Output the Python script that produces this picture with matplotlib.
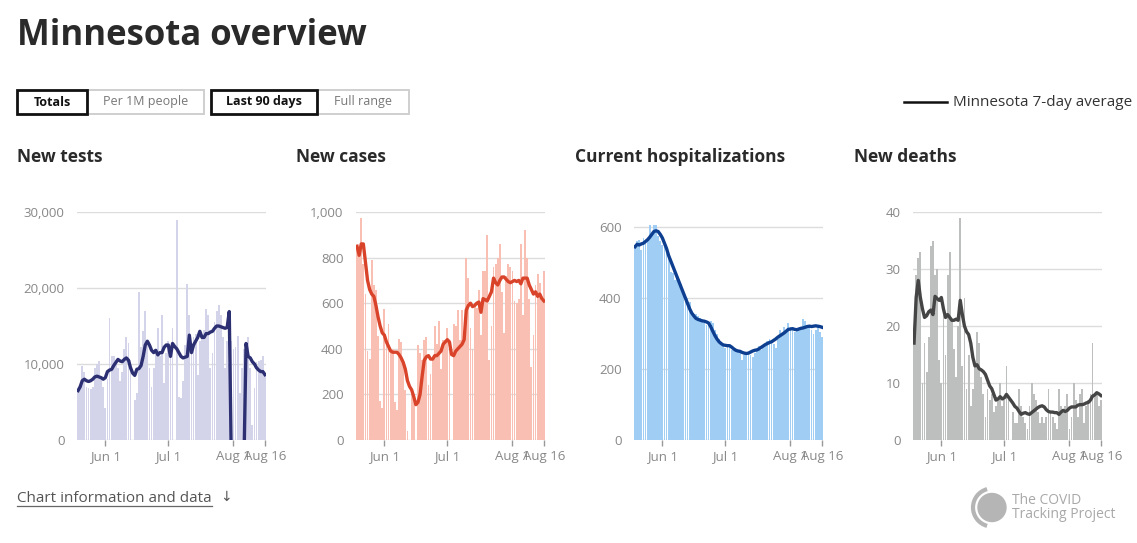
import pandas as pd
import matplotlib.pyplot as plt
from matplotlib.patches import Rectangle, Circle, Arc
from matplotlib.lines import Line2D
from matplotlib.ticker import FuncFormatter

plt.rcParams['font.family'] = ['Open Sans', 'DejaVu Sans']

# --- data (last 90 days, May 19 - Aug 16) ---
dates = pd.date_range('2020-05-19', '2020-08-16', freq='D')
tick_dates = pd.to_datetime(['2020-06-01', '2020-07-01', '2020-08-01', '2020-08-16'])
tick_labels = ['Jun 1', 'Jul 1', 'Aug 1', 'Aug 16']

tests = [6500, 7000, 9700, 8900, 7000, 6800, 6700, 7000, 9500, 10000,
         10400, 8000, 7000, 4200, 8000, 16000, 11000, 11000, 10500, 9500,
         7800, 9000, 12000, 13500, 12800, 10500, 0, 5200, 6200, 19500,
         12200, 14300, 17000, 12500, 9500, 7000, 9500, 11500, 14800, 11000,
         16500, 7500, 11500, 13000, 12500, 14700, 0, 29000, 5700, 5500,
         7700, 12500, 20500, 16500, 12000, 13500, 14000, 8500, 13000, 14000,
         14500, 17300, 16500, 9500, 11500, 15500, 17000, 17700, 16500, 13500,
         9500, 13000, 10000, 13000, 12000, 12200, 13700, 6200, 9500, 12000,
         11500, 13500, 9500, 2000, 6800, 10200, 10400, 10500, 11000, 8800]
# the average dips below zero for a week in early August (drawn off the bottom)
tests_avg = [6500, 7000, 7800, 8000, 7800, 7700, 7800, 8000, 8300, 8400,
             8300, 8200, 8000, 8200, 9000, 9200, 9300, 9800, 10200, 10600,
             10400, 10300, 10600, 10800, 10500, 9500, 8800, 8500, 9300, 9400,
             9800, 11000, 12500, 13000, 12500, 11800, 11500, 11800, 11200, 11500,
             11500, 12200, 12500, 12500, 11000, 12700, 12300, 12000, 11500, 11000,
             10800, 10900, 11000, 13800, 11500, 12500, 13000, 13500, 14300, 13500,
             13500, 14000, 14000, 14200, 14300, 14700, 15000, 15000, 14900, 14800,
             14700, 14800, 16900, -3000, -3000, -3000, -3000, -3000, -3000, -3000,
             12700, 11000, 10800, 10300, 10000, 9500, 9200, 9000, 9000, 8600]

cases = [850, 820, 975, 770, 640, 390, 355, 790, 680, 660,
         455, 170, 140, 575, 430, 510, 380, 400, 165, 130,
         445, 430, 340, 220, 40, 0, 220, 200, 0, 415,
         380, 350, 440, 450, 240, 290, 360, 500, 420, 520,
         310, 440, 440, 490, 420, 0, 510, 500, 570, 440,
         570, 470, 800, 710, 490, 400, 600, 580, 660, 460,
         740, 740, 900, 350, 500, 760, 770, 800, 860, 650,
         470, 720, 770, 760, 740, 610, 600, 620, 860, 550,
         920, 800, 620, 320, 460, 680, 730, 690, 610, 740]
cases_avg = [850, 810, 860, 860, 780, 700, 660, 640, 630, 590,
             540, 500, 470, 460, 430, 410, 390, 385, 385, 385,
             375, 360, 340, 310, 260, 235, 220, 190, 155, 165,
             200, 280, 350, 365, 370, 355, 355, 370, 370, 380,
             390, 420, 430, 440, 430, 375, 370, 390, 400, 410,
             420, 440, 570, 590, 600, 585, 590, 600, 605, 560,
             620, 615, 610, 630, 650, 710, 690, 680, 700, 715,
             715, 705, 695, 690, 695, 700, 695, 700, 685, 710,
             710, 710, 680, 660, 640, 650, 630, 640, 620, 610]

hosp = [550, 560, 565, 535, 570, 560, 570, 605, 580, 605,
        607, 575, 560, 550, 545, 535, 520, 475, 470, 450,
        455, 455, 440, 420, 410, 400, 390, 360, 355, 355,
        350, 345, 335, 330, 325, 330, 335, 330, 310, 300,
        285, 275, 265, 260, 270, 265, 255, 260, 255, 250,
        250, 225, 240, 240, 245, 240, 235, 245, 250, 265,
        255, 265, 270, 280, 285, 280, 270, 260, 285, 310,
        300, 320, 310, 330, 320, 310, 305, 310, 315, 320,
        340, 335, 320, 325, 310, 300, 310, 320, 305, 290]
hosp_avg = [545, 552, 550, 553, 555, 560, 565, 572, 580, 588,
            590, 588, 580, 570, 555, 540, 520, 505, 490, 475,
            460, 445, 430, 415, 400, 385, 370, 358, 350, 343,
            340, 338, 336, 335, 333, 330, 320, 307, 295, 285,
            277, 272, 268, 267, 266, 266, 262, 257, 253, 251,
            250, 247, 245, 244, 245, 248, 251, 253, 254, 257,
            261, 265, 269, 272, 275, 277, 281, 285, 290, 294,
            298, 302, 307, 312, 313, 314, 312, 311, 313, 315,
            316, 318, 320, 321, 320, 321, 322, 321, 320, 318]

deaths = [19, 29, 32, 33, 10, 17, 12, 18, 34, 35,
          29, 30, 14, 10, 22, 15, 29, 33, 21, 16,
          11, 20, 39, 13, 25, 9, 15, 6, 9, 13,
          19, 17, 11, 8, 4, 9, 7, 8, 5, 6,
          7, 10, 6, 7, 13, 7, 0, 5, 3, 3,
          9, 6, 4, 3, 2, 6, 10, 8, 7, 5,
          3, 4, 3, 4, 9, 5, 4, 3, 2, 9,
          6, 5, 6, 8, 2, 4, 10, 7, 4, 8,
          9, 3, 6, 7, 8, 17, 8, 8, 6, 7]
deaths_avg = [17, 25, 28, 25, 23, 21.5, 21.8, 22.5, 22.8, 22,
              25.2, 24.8, 24.5, 25, 23, 21.5, 22, 21.5, 21, 21,
              21.2, 21, 24.5, 22, 20, 19, 18.5, 17, 14.5, 13,
              13.2, 12.5, 12.3, 12, 11.5, 10.5, 9.5, 9, 8, 7,
              7.2, 7.6, 7.2, 7.4, 8, 7.5, 7, 6.5, 5.9, 5.6,
              5, 4.5, 4.7, 4.8, 4.6, 4.5, 4.8, 5.1, 5.4, 5.7,
              5.9, 6, 5.8, 5.3, 5, 4.9, 4.9, 4.8, 4.8, 4.5,
              4.9, 5.2, 5, 5.2, 5.6, 5.8, 5.8, 5.8, 6.1, 6.2,
              6.2, 6.3, 6.5, 6.6, 7.0, 7.7, 7.9, 8.3, 8.1, 7.8]

panels = [
    ('New tests', tests, tests_avg, '#d3d3ea', '#2c2f72', [0, 10000, 20000, 30000], 30000),
    ('New cases', cases, cases_avg, '#f8bfb2', '#d9432a', [0, 200, 400, 600, 800, 1000], 1000),
    ('Current hospitalizations', hosp, hosp_avg, '#9fcdf3', '#0d3e8f', [0, 200, 400, 600], 643),
    ('New deaths', deaths, deaths_avg, '#bdbfbf', '#454545', [0, 10, 20, 30, 40], 40),
]

W, H = 1137, 543
fig = plt.figure(figsize=(W / 100, H / 100), dpi=100)


def fx(px):
    return px / W


def fy(py):
    return 1 - py / H


# --- header ---
fig.text(fx(17), fy(36), 'Minnesota overview', fontsize=25, fontweight='bold',
         color='#2a2a2a', va='center', ha='left')

buttons = [(17, 87, 'Totals', True), (87, 204, 'Per 1M people', False),
           (211, 317, 'Last 90 days', True), (317, 409, 'Full range', False)]
for x0, x1, label, active in buttons:
    fig.patches.append(Rectangle((fx(x0), fy(114)), fx(x1 - x0), (114 - 90) / H,
                                 transform=fig.transFigure, fill=False,
                                 edgecolor='#111111' if active else '#cfcfcf',
                                 linewidth=2 if active else 1.4, zorder=3 if active else 2))
    fig.text(fx((x0 + x1) / 2), fy(102), label, fontsize=9,
             fontweight='bold' if active else 'normal',
             color='#111111' if active else '#777777', ha='center', va='center')

fig.lines.append(Line2D([fx(904), fx(947)], [fy(102), fy(102)], transform=fig.transFigure,
                        color='#111111', linewidth=1.8))
fig.text(fx(953), fy(102), 'Minnesota 7-day average', fontsize=11, color='#333333',
         ha='left', va='center')

# --- panels ---
lefts = [77, 356, 634, 913]
titles_x = [17, 296, 575, 854]
for (title, bars, avg, bar_c, line_c, yticks, ytop), left, tx in zip(panels, lefts, titles_x):
    fig.text(fx(tx), fy(157), title, fontsize=12.5, fontweight='bold', color='#2a2a2a',
             ha='left', va='center')
    ax = fig.add_axes([fx(left), fy(440), fx(189), (440 - 212) / H])
    ax.bar(dates, bars, width=0.86, color=bar_c, zorder=2)
    ax.plot(dates, avg, color=line_c, linewidth=2.4, zorder=3, solid_joinstyle='round')
    ax.set_xlim(dates[0] - pd.Timedelta(hours=12), dates[-1] + pd.Timedelta(hours=12))
    ax.set_ylim(0, ytop)
    ax.set_yticks(yticks)
    ax.yaxis.set_major_formatter(FuncFormatter(lambda v, p: f'{int(v):,}'))
    ax.set_xticks(tick_dates)
    ax.set_xticklabels(tick_labels)
    for s in ax.spines.values():
        s.set_visible(False)
    ax.grid(axis='y', color='#dcdcdc', linewidth=1, zorder=0)
    ax.tick_params(axis='y', length=0, pad=9, labelsize=9.5, labelcolor='#888888')
    ax.tick_params(axis='x', length=4, width=1, color='#999999', pad=3,
                   labelsize=9.5, labelcolor='#888888')

# --- footer ---
fig.text(fx(17), fy(498), 'Chart information and data', fontsize=11, color='#555555',
         ha='left', va='center')
fig.lines.append(Line2D([fx(17), fx(212)], [fy(506), fy(506)], transform=fig.transFigure,
                        color='#666666', linewidth=0.9))
fig.text(fx(220), fy(497), '\u2193', fontsize=10, color='#555555', ha='left', va='center',
         family=['DejaVu Sans'])

# logo
logo_ax = fig.add_axes([fx(960), fy(535), fx(60), (535 - 480) / H])
logo_ax.set_xlim(-30, 30)
logo_ax.set_ylim(-27.5, 27.5)
logo_ax.set_aspect('equal')
logo_ax.axis('off')
logo_ax.add_patch(Circle((2, 0), 14, color='#b5b5b5'))
logo_ax.add_patch(Arc((2, 0), 38, 38, theta1=105, theta2=255, color='#b5b5b5', linewidth=3))
fig.text(fx(1012), fy(500), 'The COVID', fontsize=10, color='#a8a8a8', ha='left', va='center')
fig.text(fx(1012), fy(514), 'Tracking Project', fontsize=10, color='#a8a8a8', ha='left', va='center')

plt.savefig('out.png', dpi=100)
